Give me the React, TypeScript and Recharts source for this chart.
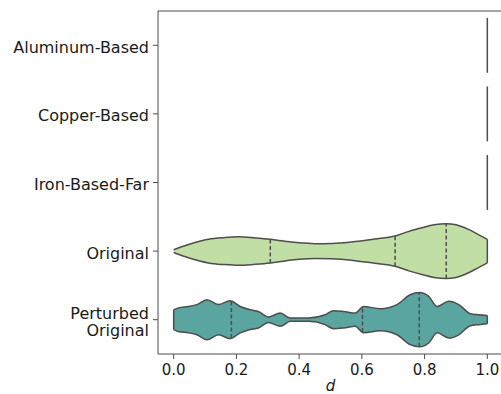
import { Area, ComposedChart, ReferenceLine, XAxis, YAxis } from "recharts"

const categories = ["Aluminum-Based", "Copper-Based", "Iron-Based-Far", "Original", "Perturbed\nOriginal"]
const xTicks = [0, 0.2, 0.4, 0.6, 0.8, 1.0]

// every sample in the three alloy groups is d = 1.0
const alloyValues = [1.0, 1.0, 1.0]

// kernel density, peak normalised to 1
const originalD = [0, 0.047, 0.111, 0.16, 0.207, 0.26, 0.308, 0.36, 0.4, 0.45, 0.505, 0.578, 0.64, 0.706, 0.75, 0.791, 0.83, 0.869, 0.9, 0.94, 0.97, 1.0]
const originalDensity = [0.05, 0.24, 0.43, 0.49, 0.52, 0.48, 0.43, 0.35, 0.3, 0.27, 0.28, 0.35, 0.44, 0.55, 0.72, 0.85, 0.96, 1.0, 0.96, 0.79, 0.61, 0.43]
const originalQuartiles = [0.308, 0.706, 0.869]

const perturbedD = [0, 0.015, 0.047, 0.074, 0.106, 0.143, 0.18, 0.212, 0.244, 0.27, 0.302, 0.34, 0.372, 0.43, 0.483, 0.51, 0.542, 0.579, 0.605, 0.659, 0.712, 0.754, 0.784, 0.813, 0.84, 0.877, 0.909, 0.946, 0.972, 1.0]
const perturbedDensity = [0.36, 0.43, 0.48, 0.55, 0.73, 0.55, 0.69, 0.48, 0.36, 0.3, 0.1, 0.24, 0.06, 0.06, 0.18, 0.33, 0.3, 0.24, 0.48, 0.4, 0.55, 0.91, 0.99, 0.85, 0.48, 0.67, 0.55, 0.22, 0.18, 0.15]
const perturbedQuartiles = [0.184, 0.602, 0.783]

const HALF_WIDTH = 0.4
const EDGE = "#4d4d4d"
const FONT = "DejaVu Sans"

const bandCenter = (i: number) => categories.length - 0.5 - i

function violinRows(ds: number[], dens: number[], i: number) {
  const c = bandCenter(i)
  return ds.map((d, k) => ({ d, range: [c - dens[k] * HALF_WIDTH, c + dens[k] * HALF_WIDTH] }))
}

function densityAt(ds: number[], dens: number[], x: number) {
  for (let k = 1; k < ds.length; k++) {
    if (x <= ds[k]) {
      const t = (x - ds[k - 1]) / (ds[k] - ds[k - 1])
      return dens[k - 1] + t * (dens[k] - dens[k - 1])
    }
  }
  return dens[dens.length - 1]
}

function segmentAt(x: number, i: number, half: number) {
  const c = bandCenter(i)
  return [
    { x, y: c - half },
    { x, y: c + half },
  ]
}

const originalRows = violinRows(originalD, originalDensity, 3)
const perturbedRows = violinRows(perturbedD, perturbedDensity, 4)

function CategoryTick({ x, y, payload }: any) {
  const idx = Math.round(categories.length - 0.5 - payload.value)
  const lines = (categories[idx] ?? "").split("\n")
  const lineH = 17
  const start = -((lines.length - 1) * lineH) / 2 + 2
  return (
    <text x={x} y={y} textAnchor="end" fontFamily={FONT} fontSize={16} fill="#1a1a1a">
      {lines.map((l, k) => (
        <tspan key={k} x={x} dy={k === 0 ? start + 5.5 : lineH}>
          {l}
        </tspan>
      ))}
    </text>
  )
}

export default function App() {
  // closing edges where the density is cut at the data range
  const ends = [
    { x: 1.0, i: 3, w: densityAt(originalD, originalDensity, 1.0) },
    { x: 0, i: 4, w: densityAt(perturbedD, perturbedDensity, 0) },
    { x: 1.0, i: 4, w: densityAt(perturbedD, perturbedDensity, 1.0) },
  ]
  return (
    <div style={{ position: "absolute", left: 0, top: 0, width: 501, height: 394, overflow: "hidden", background: "#fff" }}>
      <ComposedChart width={510} height={394} margin={{ top: 11, right: 7, bottom: 0, left: 0 }}>
        <XAxis
          type="number"
          dataKey="d"
          domain={[-0.05, 1.05]}
          ticks={xTicks}
          allowDataOverflow
          tickFormatter={(v: number) => v.toFixed(1)}
          height={40}
          tickSize={5}
          tickMargin={5}
          stroke={EDGE}
          tick={{ fill: "#1a1a1a", fontSize: 15, fontFamily: FONT }}
          label={{ value: "d", position: "insideBottom", offset: 3, fontStyle: "italic", fontSize: 15, fontFamily: FONT, fill: "#1a1a1a" }}
        />
        <YAxis
          type="number"
          domain={[0, categories.length]}
          ticks={categories.map((_, i) => bandCenter(i))}
          width={158}
          tickSize={5}
          tickMargin={4}
          stroke={EDGE}
          tick={<CategoryTick />}
          allowDataOverflow
        />
        <ReferenceLine y={categories.length} stroke={EDGE} strokeWidth={1} ifOverflow="visible" />
        <Area
          data={originalRows}
          dataKey="range"
          type="monotoneX"
          fill="#c1dfa5"
          fillOpacity={1}
          stroke={EDGE}
          strokeWidth={1.5}
          isAnimationActive={false}
          activeDot={false}
        />
        <Area
          data={perturbedRows}
          dataKey="range"
          type="monotoneX"
          fill="#5aa5a0"
          fillOpacity={1}
          stroke={EDGE}
          strokeWidth={1.5}
          isAnimationActive={false}
          activeDot={false}
        />
        {alloyValues.map((v, i) => (
          <ReferenceLine key={`alloy-${i}`} segment={segmentAt(v, i, HALF_WIDTH)} stroke={EDGE} strokeWidth={1.5} />
        ))}
        {ends.map((e, k) => (
          <ReferenceLine key={`end-${k}`} segment={segmentAt(e.x, e.i, e.w * HALF_WIDTH)} stroke={EDGE} strokeWidth={1.5} />
        ))}
        {originalQuartiles.map((q) => (
          <ReferenceLine
            key={`oq-${q}`}
            segment={segmentAt(q, 3, densityAt(originalD, originalDensity, q) * HALF_WIDTH)}
            stroke={EDGE}
            strokeWidth={1.5}
            strokeDasharray="4 2.5"
          />
        ))}
        {perturbedQuartiles.map((q) => (
          <ReferenceLine
            key={`pq-${q}`}
            segment={segmentAt(q, 4, densityAt(perturbedD, perturbedDensity, q) * HALF_WIDTH)}
            stroke={EDGE}
            strokeWidth={1.5}
            strokeDasharray="4 2.5"
          />
        ))}
      </ComposedChart>
    </div>
  )
}
